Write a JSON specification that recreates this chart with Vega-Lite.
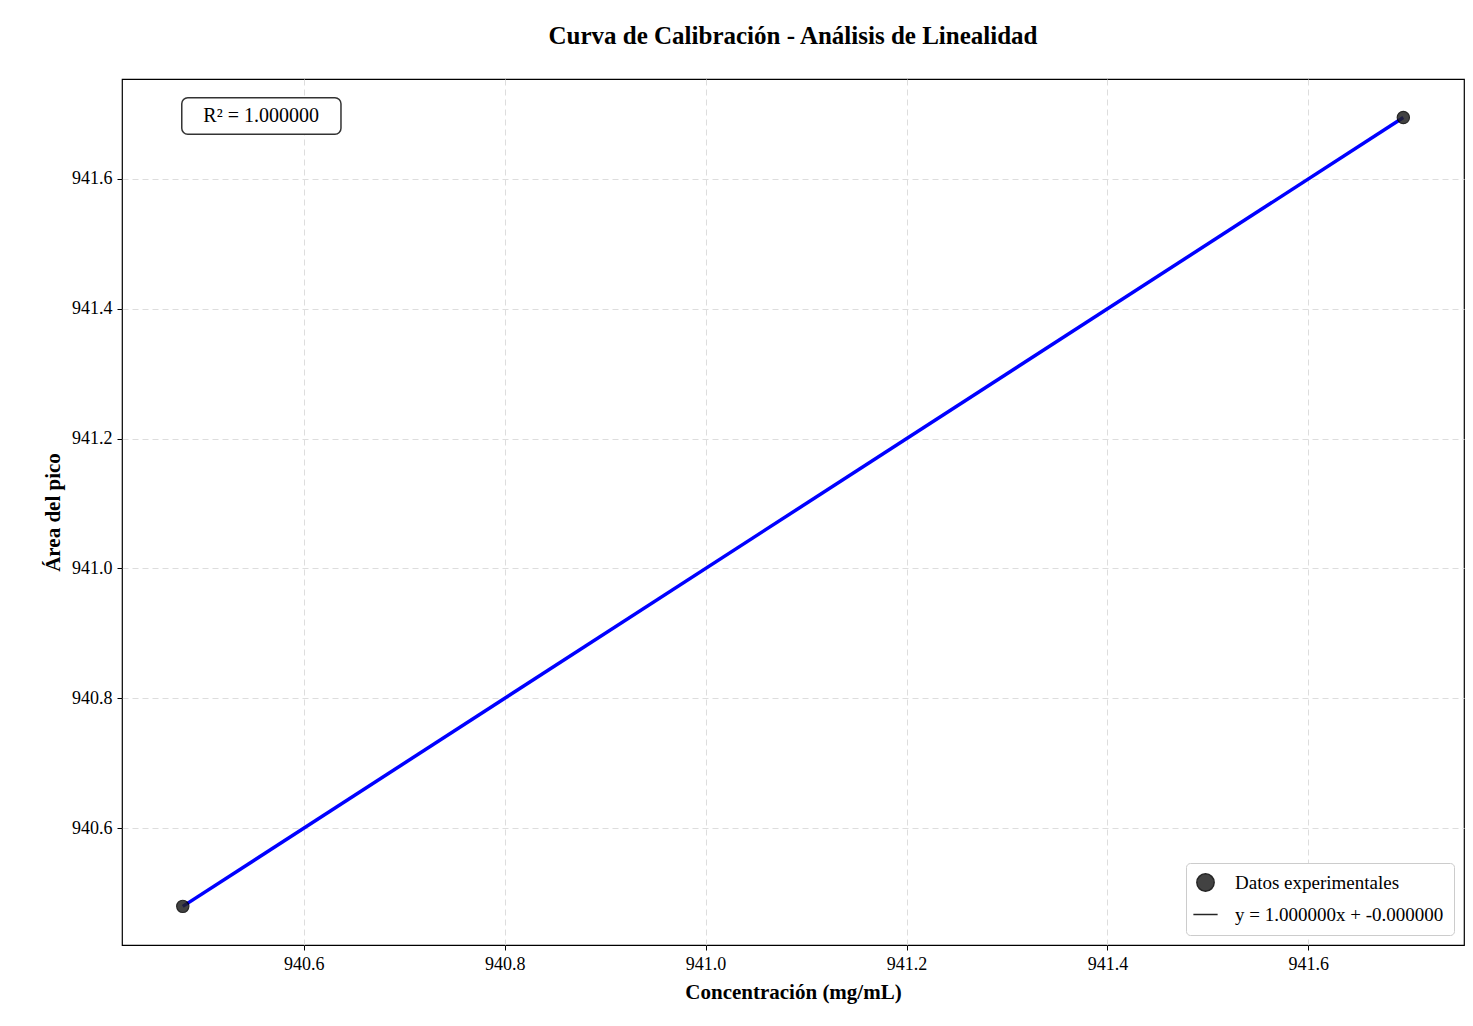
{
  "$schema": "https://vega.github.io/schema/vega-lite/v6.json",
  "width": 1342,
  "height": 866,
  "padding": {"left": 42, "top": 24, "right": 5, "bottom": 5},
  "background": "white",
  "config": {
    "font": "Liberation Serif",
    "view": {"stroke": "black", "strokeWidth": 1.2},
    "axis": {"labelFontSize": 18, "titleFontSize": 21, "titleFontWeight": "bold", "labelColor": "black", "titleColor": "black", "domain": false, "tickColor": "black", "tickSize": 5, "gridColor": "#dddddd", "gridDash": [6, 4], "gridWidth": 1, "labelPadding": 5, "titlePadding": 8}
  },
  "title": {"text": "Curva de Calibración - Análisis de Linealidad", "fontSize": 25, "fontWeight": "bold", "offset": 30, "color": "black"},
  "datasets": {
    "pts": [
      {"conc": 940.4795, "area": 940.4795, "series": "Datos experimentales"},
      {"conc": 941.6946, "area": 941.6946, "series": "Datos experimentales"}
    ],
    "note": [
      {"x1": 940.4785, "x2": 940.637, "y1": 941.669, "y2": 941.725, "xt": 940.5575, "yt": 941.697, "label": "R² = 1.000000"}
    ]
  },
  "layer": [
    {
      "data": {"name": "pts"},
      "mark": {"type": "line", "color": "blue", "strokeWidth": 3.5},
      "encoding": {
        "x": {"field": "conc", "type": "quantitative", "scale": {"domain": [940.419, 941.755], "nice": false, "zero": false}, "axis": {"values": [940.6, 940.8, 941.0, 941.2, 941.4, 941.6], "format": ".1f", "title": "Concentración (mg/mL)"}},
        "y": {"field": "area", "type": "quantitative", "scale": {"domain": [940.42, 941.754], "nice": false, "zero": false}, "axis": {"values": [940.6, 940.8, 941.0, 941.2, 941.4, 941.6], "format": ".1f", "title": "Área del pico"}}
      }
    },
    {
      "data": {"name": "pts"},
      "mark": {"type": "point", "filled": true, "size": 150, "opacity": 0.85, "stroke": "black", "strokeWidth": 1.2},
      "encoding": {
        "x": {"field": "conc", "type": "quantitative"},
        "y": {"field": "area", "type": "quantitative"},
        "color": {"field": "series", "type": "nominal", "scale": {"domain": ["Datos experimentales", "y = 1.000000x + -0.000000"], "range": ["#222222", "blue"]}, "legend": {"title": null, "orient": "bottom-right", "labelFontSize": 19, "labelLimit": 500, "labelColor": "black", "symbolSize": 300, "strokeColor": "#cccccc", "padding": 10, "cornerRadius": 4, "fillColor": "white", "rowPadding": 10, "labelOffset": 20, "offset": 10, "encode": {"symbols": {"enter": {"stroke": {"signal": "datum.value === 'Datos experimentales' ? 'black' : 'blue'"}, "strokeWidth": {"signal": "datum.value === 'Datos experimentales' ? 1.2 : 3.5"}}, "update": {"stroke": {"signal": "datum.value === 'Datos experimentales' ? 'black' : 'blue'"}, "strokeWidth": {"signal": "datum.value === 'Datos experimentales' ? 1.2 : 3.5"}, "opacity": {"value": 0.9}}}}}},
        "shape": {"field": "series", "type": "nominal", "scale": {"domain": ["Datos experimentales", "y = 1.000000x + -0.000000"], "range": ["circle", "M-1.4,0H1.4"]}}
      }
    },
    {
      "data": {"name": "note"},
      "mark": {"type": "rect", "fill": "white", "stroke": "#333333", "strokeWidth": 1.5, "cornerRadius": 6},
      "encoding": {
        "x": {"field": "x1", "type": "quantitative"},
        "x2": {"field": "x2"},
        "y": {"field": "y1", "type": "quantitative"},
        "y2": {"field": "y2"}
      }
    },
    {
      "data": {"name": "note"},
      "mark": {"type": "text", "fontSize": 20, "color": "black"},
      "encoding": {
        "x": {"field": "xt", "type": "quantitative"},
        "y": {"field": "yt", "type": "quantitative"},
        "text": {"field": "label"}
      }
    }
  ]
}
